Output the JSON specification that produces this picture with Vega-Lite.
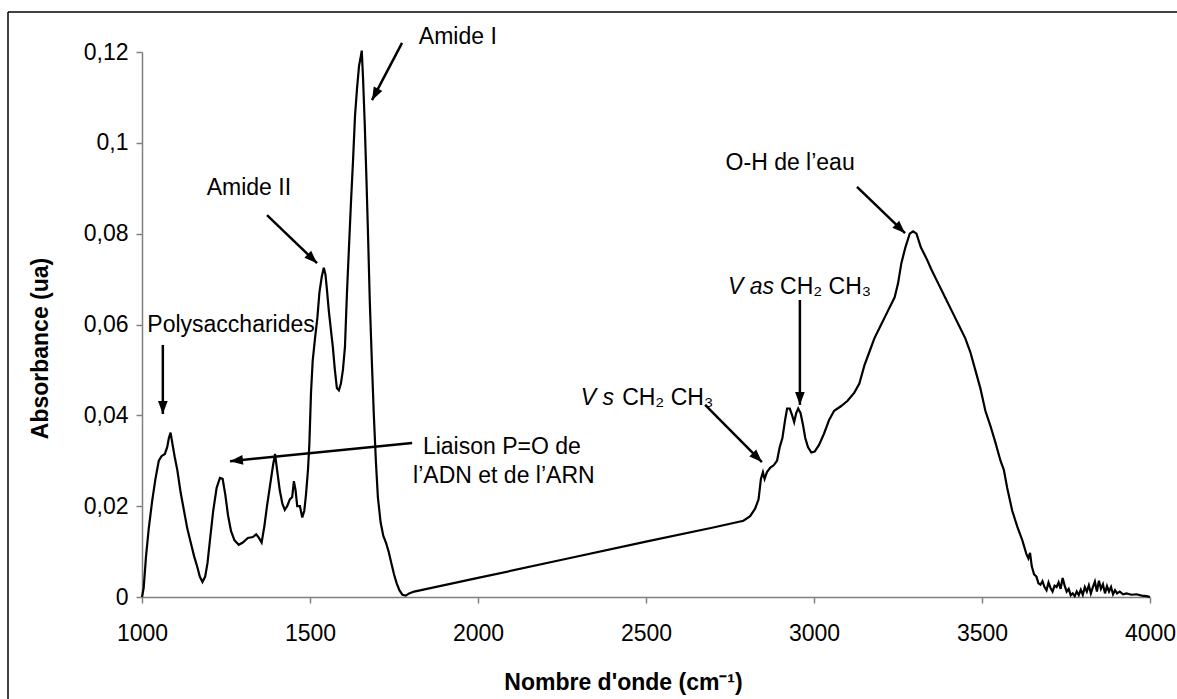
{
  "$schema": "https://vega.github.io/schema/vega-lite/v6.json",
  "width": 1008,
  "height": 545,
  "autosize": {"type": "none"},
  "padding": {"left": 142, "top": 52, "right": 27, "bottom": 102},
  "background": "white",
  "config": {
    "font": "Liberation Sans",
    "view": {"stroke": null},
    "axis": {"grid": false}
  },
  "datasets": {
    "spectrum": [
      {"x":1000,"y":0},{"x":1005,"y":0.002},{"x":1012,"y":0.009},{"x":1020,"y":0.015},{"x":1030,"y":0.021},
      {"x":1040,"y":0.026},{"x":1050,"y":0.030},{"x":1058,"y":0.031},{"x":1068,"y":0.0315},{"x":1075,"y":0.033},
      {"x":1080,"y":0.035},{"x":1085,"y":0.0362},{"x":1090,"y":0.034},{"x":1097,"y":0.031},{"x":1105,"y":0.028},
      {"x":1115,"y":0.023},{"x":1125,"y":0.019},{"x":1135,"y":0.015},{"x":1145,"y":0.012},{"x":1155,"y":0.009},
      {"x":1165,"y":0.0065},{"x":1172,"y":0.0045},{"x":1180,"y":0.0033},{"x":1188,"y":0.0045},{"x":1195,"y":0.0075},
      {"x":1203,"y":0.013},{"x":1212,"y":0.019},{"x":1222,"y":0.024},{"x":1232,"y":0.0262},{"x":1240,"y":0.026},
      {"x":1248,"y":0.0225},{"x":1256,"y":0.018},{"x":1265,"y":0.0145},{"x":1275,"y":0.0125},{"x":1288,"y":0.0115},
      {"x":1300,"y":0.012},{"x":1315,"y":0.013},{"x":1330,"y":0.0132},{"x":1340,"y":0.0138},{"x":1348,"y":0.013},
      {"x":1356,"y":0.012},{"x":1364,"y":0.0155},{"x":1372,"y":0.020},{"x":1382,"y":0.025},{"x":1390,"y":0.029},
      {"x":1396,"y":0.0315},{"x":1402,"y":0.028},{"x":1410,"y":0.0235},{"x":1418,"y":0.0205},{"x":1425,"y":0.0192},
      {"x":1432,"y":0.020},{"x":1440,"y":0.0215},{"x":1447,"y":0.022},{"x":1452,"y":0.0255},{"x":1457,"y":0.0235},
      {"x":1462,"y":0.020},{"x":1470,"y":0.020},{"x":1477,"y":0.0175},{"x":1483,"y":0.019},{"x":1488,"y":0.0225},
      {"x":1494,"y":0.028},{"x":1498,"y":0.0335},{"x":1503,"y":0.045},{"x":1508,"y":0.052},{"x":1515,"y":0.057},
      {"x":1522,"y":0.0615},{"x":1528,"y":0.067},{"x":1535,"y":0.0705},{"x":1541,"y":0.0725},{"x":1546,"y":0.071},
      {"x":1550,"y":0.068},{"x":1556,"y":0.063},{"x":1562,"y":0.059},{"x":1568,"y":0.055},{"x":1574,"y":0.050},
      {"x":1580,"y":0.046},{"x":1586,"y":0.0455},{"x":1592,"y":0.047},{"x":1598,"y":0.050},{"x":1604,"y":0.055},
      {"x":1610,"y":0.067},{"x":1616,"y":0.077},{"x":1622,"y":0.087},{"x":1628,"y":0.096},{"x":1634,"y":0.106},
      {"x":1640,"y":0.112},{"x":1646,"y":0.117},{"x":1650,"y":0.1185},{"x":1654,"y":0.1203},{"x":1658,"y":0.114},
      {"x":1663,"y":0.104},{"x":1668,"y":0.092},{"x":1673,"y":0.079},{"x":1678,"y":0.065},{"x":1684,"y":0.052},
      {"x":1690,"y":0.040},{"x":1696,"y":0.030},{"x":1702,"y":0.022},{"x":1710,"y":0.0165},{"x":1718,"y":0.0135},
      {"x":1726,"y":0.012},{"x":1734,"y":0.010},{"x":1742,"y":0.0075},{"x":1750,"y":0.005},{"x":1758,"y":0.003},
      {"x":1766,"y":0.0015},{"x":1775,"y":0.0005},{"x":1785,"y":0.0003},{"x":1795,"y":0.0008},{"x":1810,"y":0.0012},
      {"x":2000,"y":0.0042},{"x":2250,"y":0.0082},{"x":2500,"y":0.0122},{"x":2700,"y":0.0153},{"x":2790,"y":0.0168},
      {"x":2810,"y":0.0178},{"x":2825,"y":0.0195},{"x":2835,"y":0.0215},{"x":2842,"y":0.026},{"x":2848,"y":0.0275},
      {"x":2853,"y":0.026},{"x":2860,"y":0.0275},{"x":2870,"y":0.0285},{"x":2880,"y":0.029},{"x":2890,"y":0.030},
      {"x":2898,"y":0.033},{"x":2906,"y":0.035},{"x":2914,"y":0.039},{"x":2920,"y":0.0415},{"x":2928,"y":0.0415},
      {"x":2935,"y":0.040},{"x":2941,"y":0.0385},{"x":2947,"y":0.0405},{"x":2953,"y":0.0415},{"x":2960,"y":0.0405},
      {"x":2967,"y":0.038},{"x":2974,"y":0.035},{"x":2982,"y":0.033},{"x":2992,"y":0.0318},{"x":3002,"y":0.032},
      {"x":3015,"y":0.0335},{"x":3030,"y":0.036},{"x":3045,"y":0.039},{"x":3060,"y":0.041},{"x":3080,"y":0.042},
      {"x":3100,"y":0.0432},{"x":3120,"y":0.045},{"x":3135,"y":0.047},{"x":3150,"y":0.051},{"x":3165,"y":0.054},
      {"x":3180,"y":0.057},{"x":3200,"y":0.060},{"x":3220,"y":0.063},{"x":3240,"y":0.066},{"x":3250,"y":0.069},
      {"x":3260,"y":0.0735},{"x":3272,"y":0.077},{"x":3285,"y":0.080},{"x":3295,"y":0.0805},{"x":3305,"y":0.080},
      {"x":3318,"y":0.077},{"x":3335,"y":0.0745},{"x":3350,"y":0.072},{"x":3370,"y":0.069},{"x":3390,"y":0.066},
      {"x":3410,"y":0.063},{"x":3430,"y":0.060},{"x":3450,"y":0.057},{"x":3465,"y":0.054},{"x":3480,"y":0.050},
      {"x":3495,"y":0.046},{"x":3510,"y":0.041},{"x":3525,"y":0.0377},{"x":3540,"y":0.034},{"x":3555,"y":0.030},
      {"x":3565,"y":0.028},{"x":3575,"y":0.024},{"x":3590,"y":0.019},{"x":3605,"y":0.0155},{"x":3620,"y":0.0125},
      {"x":3632,"y":0.0095},{"x":3638,"y":0.0085},{"x":3643,"y":0.0097},{"x":3648,"y":0.0068},{"x":3655,"y":0.005},
      {"x":3662,"y":0.0045},{"x":3668,"y":0.003},{"x":3674,"y":0.0027},{"x":3680,"y":0.0035},{"x":3686,"y":0.0022},
      {"x":3692,"y":0.0015},{"x":3698,"y":0.0032},{"x":3704,"y":0.002},{"x":3710,"y":0.0012},{"x":3716,"y":0.0025},
      {"x":3722,"y":0.0022},{"x":3728,"y":0.0032},{"x":3734,"y":0.0018},{"x":3740,"y":0.0042},{"x":3746,"y":0.0025},
      {"x":3752,"y":0.0012},{"x":3758,"y":0.0018},{"x":3764,"y":0.0004},{"x":3770,"y":0.0008},{"x":3776,"y":0.0002},
      {"x":3782,"y":0.0012},{"x":3788,"y":0.0004},{"x":3794,"y":0.0016},{"x":3800,"y":0.0005},{"x":3806,"y":0.0022},
      {"x":3812,"y":0.0012},{"x":3818,"y":0.0026},{"x":3824,"y":0.0008},{"x":3830,"y":0.0022},{"x":3836,"y":0.0034},
      {"x":3842,"y":0.0012},{"x":3848,"y":0.0036},{"x":3854,"y":0.0018},{"x":3860,"y":0.0028},{"x":3866,"y":0.0008},
      {"x":3872,"y":0.0024},{"x":3878,"y":0.0012},{"x":3884,"y":0.0022},{"x":3890,"y":0.0006},{"x":3896,"y":0.0015},
      {"x":3902,"y":0.0008},{"x":3910,"y":0.0012},{"x":3920,"y":0.0006},{"x":3930,"y":0.0008},{"x":3945,"y":0.0005},
      {"x":3960,"y":0.0006},{"x":3975,"y":0.0003},{"x":3990,"y":0.0002},{"x":4000,"y":0}
    ],
    "labels": [
      {"x":1940,"y":0.1233,"text":"Amide I"},
      {"x":1318,"y":0.0901,"text":"Amide II"},
      {"x":1265,"y":0.0599,"text":"Polysaccharides"},
      {"x":2071,"y":0.0330,"text":"Liaison P=O de"},
      {"x":2077,"y":0.0266,"text":"l’ADN et de l’ARN"},
      {"x":2929,"y":0.0956,"text":"O-H de l’eau"}
    ],
    "groups": [
      {"x":2429,"y":0.0438,"text":"CH₂ CH₃"},
      {"x":2899,"y":0.0683,"text":"CH₂ CH₃"}
    ],
    "modes": [
      {"x":2405,"y":0.0438,"text":"V s"},
      {"x":2881,"y":0.0683,"text":"V as"}
    ],
    "arrows": [
      {"x":1774,"y":0.1220,"x2":1684.5,"y2":0.1094,"angle":208},
      {"x":1372,"y":0.0841,"x2":1521,"y2":0.0735,"angle":134},
      {"x":1062,"y":0.0555,"x2":1062,"y2":0.0403,"angle":180},
      {"x":1804,"y":0.0339,"x2":1262,"y2":0.0299,"angle":264},
      {"x":2676,"y":0.0423,"x2":2845,"y2":0.0297,"angle":135},
      {"x":2958,"y":0.0654,"x2":2958,"y2":0.0423,"angle":180},
      {"x":3128,"y":0.0903,"x2":3271,"y2":0.0801,"angle":134}
    ],
    "frame": [
      {"x":601.2,"x2":4100,"y":0.12881,"y2":0.12881},
      {"x":601.2,"x2":601.2,"y":0.12881,"y2":-0.0225}
    ]
  },
  "layer": [
    {
      "data": {"name": "frame"},
      "mark": {"type": "rule", "color": "#000000", "strokeWidth": 1.5},
      "encoding": {
        "x": {"field": "x", "type": "quantitative"},
        "x2": {"field": "x2"},
        "y": {"field": "y", "type": "quantitative"},
        "y2": {"field": "y2"}
      }
    },
    {
      "data": {"name": "spectrum"},
      "mark": {"type": "line", "color": "#000000", "strokeWidth": 2.2},
      "encoding": {
        "x": {
          "field": "x", "type": "quantitative",
          "scale": {"domain": [1000, 4000], "nice": false, "zero": false},
          "axis": {
            "title": "Nombre d'onde (cm⁻¹)",
            "values": [1000, 1500, 2000, 2500, 3000, 3500, 4000],
            "format": "d",
            "domainColor": "#808080", "domainWidth": 1.5,
            "tickColor": "#808080", "tickWidth": 1.5, "tickSize": 6,
            "labelFontSize": 23, "labelColor": "#000000", "labelPadding": 19,
            "labelFlush": false, "labelOverlap": false,
            "titleFontSize": 23, "titleFontWeight": "bold", "titleColor": "#000000",
            "titleX": 481, "titleY": 85, "titleBaseline": "middle", "titleAlign": "center"
          }
        },
        "y": {
          "field": "y", "type": "quantitative",
          "scale": {"domain": [0, 0.12], "nice": false, "zero": false},
          "axis": {
            "title": "Absorbance (ua)",
            "values": [0, 0.02, 0.04, 0.06, 0.08, 0.1, 0.12],
            "labelExpr": "replace(toString(datum.value), '.', ',')",
            "domainColor": "#808080", "domainWidth": 1.5,
            "tickColor": "#808080", "tickWidth": 1.5, "tickSize": 6,
            "labelFontSize": 23, "labelColor": "#000000", "labelPadding": 8,
            "labelFlush": false, "labelOverlap": false,
            "titleFontSize": 23, "titleFontWeight": "bold", "titleColor": "#000000",
            "titleX": -102, "titleY": 296, "titleAngle": -90, "titleBaseline": "middle", "titleAlign": "center"
          }
        }
      }
    },
    {
      "data": {"name": "arrows"},
      "mark": {"type": "rule", "color": "#000000", "strokeWidth": 2.5},
      "encoding": {
        "x": {"field": "x", "type": "quantitative"},
        "x2": {"field": "x2"},
        "y": {"field": "y", "type": "quantitative"},
        "y2": {"field": "y2"}
      }
    },
    {
      "data": {"name": "arrows"},
      "mark": {"type": "point", "shape": "M0,0L-0.6,1.6L0.6,1.6Z", "filled": true, "color": "#000000", "size": 260, "opacity": 1},
      "encoding": {
        "x": {"field": "x2", "type": "quantitative"},
        "y": {"field": "y2", "type": "quantitative"},
        "angle": {"field": "angle", "type": "quantitative", "scale": null}
      }
    },
    {
      "data": {"name": "labels"},
      "mark": {"type": "text", "fontSize": 23, "color": "#000000", "align": "center", "baseline": "middle"},
      "encoding": {
        "x": {"field": "x", "type": "quantitative"},
        "y": {"field": "y", "type": "quantitative"},
        "text": {"field": "text"}
      }
    },
    {
      "data": {"name": "groups"},
      "mark": {"type": "text", "fontSize": 23, "color": "#000000", "align": "left", "baseline": "middle"},
      "encoding": {
        "x": {"field": "x", "type": "quantitative"},
        "y": {"field": "y", "type": "quantitative"},
        "text": {"field": "text"}
      }
    },
    {
      "data": {"name": "modes"},
      "mark": {"type": "text", "fontSize": 23, "fontStyle": "italic", "color": "#000000", "align": "right", "baseline": "middle"},
      "encoding": {
        "x": {"field": "x", "type": "quantitative"},
        "y": {"field": "y", "type": "quantitative"},
        "text": {"field": "text"}
      }
    }
  ]
}
